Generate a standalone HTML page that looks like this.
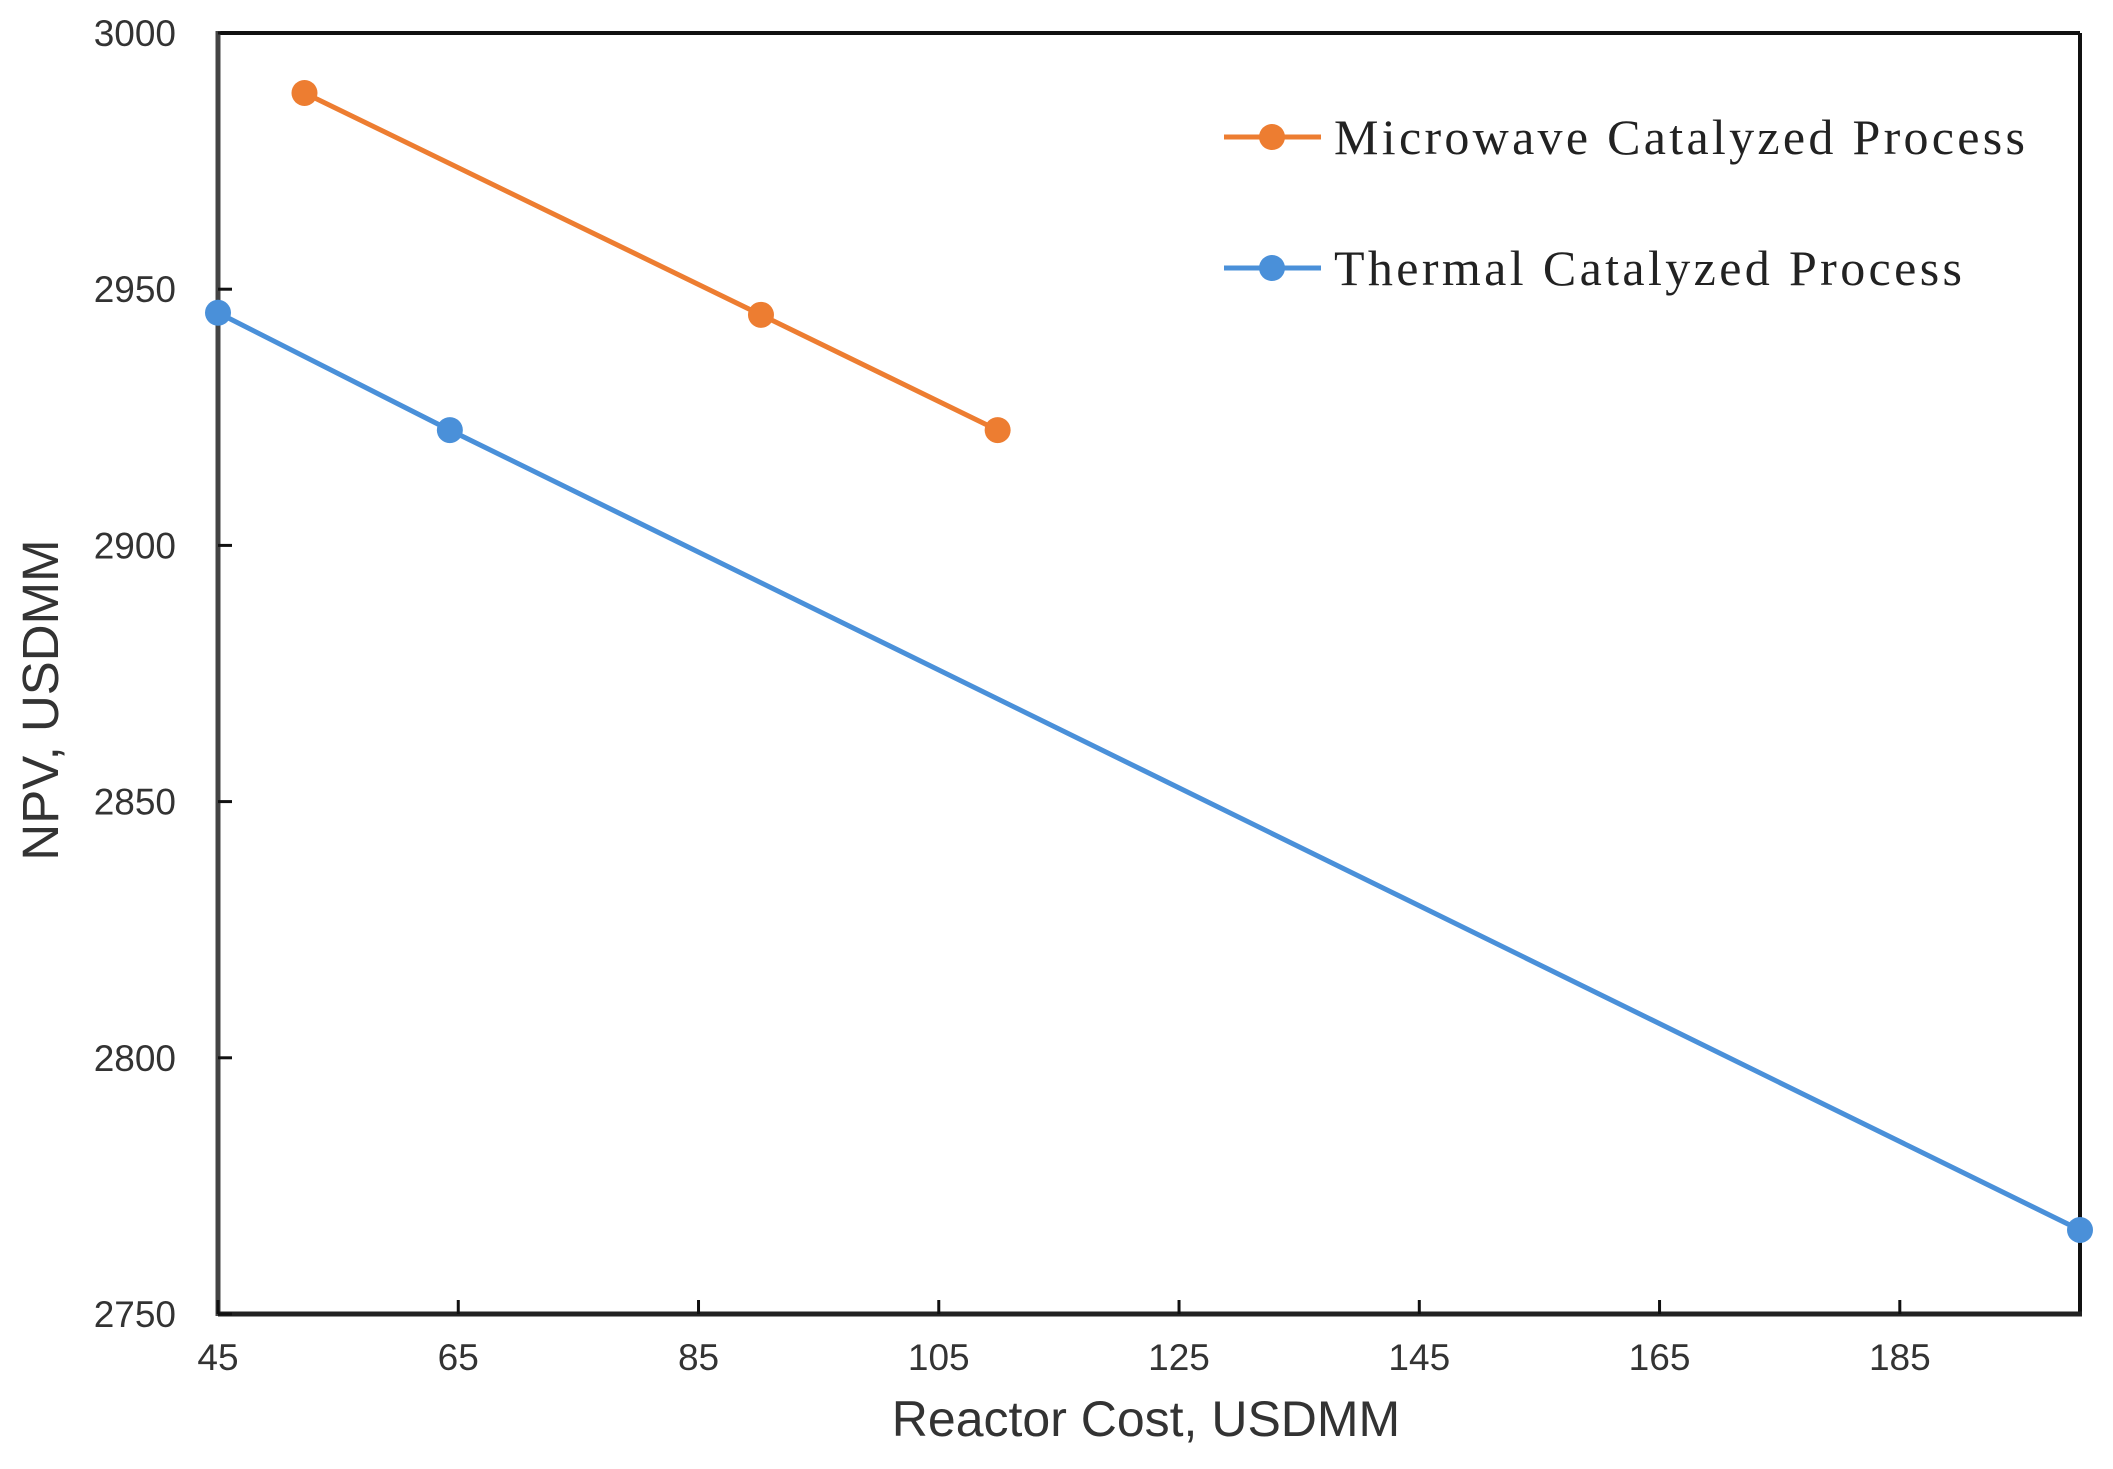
<!DOCTYPE html>
<html><head><meta charset="utf-8"><style>
html,body{margin:0;padding:0;background:#fff;}
svg{display:block;}
</style></head><body>
<svg id="chart" width="2113" height="1469" viewBox="0 0 2113 1469" xmlns="http://www.w3.org/2000/svg">
<g id="axes"></g><g id="series"></g>
<g>
 <g>
  <line x1="1224" y1="137" x2="1321" y2="137" stroke="#ED7D31" stroke-width="5"/>
  <circle cx="1272" cy="137" r="13" fill="#ED7D31"/>
  <text x="1334" y="154" font-family="Liberation Serif, serif" font-size="50" textLength="691" lengthAdjust="spacing" fill="#222">Microwave Catalyzed Process</text>
 </g>
 <g>
  <line x1="1224" y1="268" x2="1321" y2="268" stroke="#4A90D9" stroke-width="5"/>
  <circle cx="1272" cy="268" r="13" fill="#4A90D9"/>
  <text x="1334" y="285" font-family="Liberation Serif, serif" font-size="50" textLength="628" lengthAdjust="spacing" fill="#222">Thermal Catalyzed Process</text>
 </g>
</g>
<text x="1146" y="1436" text-anchor="middle" font-family="Liberation Sans, sans-serif" font-size="50" fill="#333">Reactor Cost, USDMM</text>
<text transform="translate(58,700) rotate(-90)" text-anchor="middle" font-family="Liberation Sans, sans-serif" font-size="51" fill="#333">NPV, USDMM</text>
</svg>
<script>
const xTicks = [45, 65, 85, 105, 125, 145, 165, 185];
const yTicks = [2750, 2800, 2850, 2900, 2950, 3000];
const microwaveX = [52.2, 90.2, 109.9];
const microwaveY = [2988.3, 2945, 2922.5];
const thermalX = [45, 64.3, 200];
const thermalY = [2945.4, 2922.5, 2766.4];

const L = 218, R = 2080, T = 33, B = 1314;
const xMin = 45, xMax = 200, yMin = 2750, yMax = 3000;
function xs(v){ return L + (v - xMin) / (xMax - xMin) * (R - L); }
function ys(v){ return B - (v - yMin) / (yMax - yMin) * (B - T); }
const NS = 'http://www.w3.org/2000/svg';
function mk(tag, attrs, parent){ const e = document.createElementNS(NS, tag); for (const k in attrs) e.setAttribute(k, attrs[k]); parent.appendChild(e); return e; }
const axes = document.getElementById('axes');
const series = document.getElementById('series');

const frameTop = mk('line', {x1:L, y1:T, x2:R, y2:T, stroke:'#111', 'stroke-width':4}, axes);


const frameRight = mk('line', {x1:R, y1:T, x2:R, y2:B, stroke:'#111', 'stroke-width':4}, axes);


const yAxis = mk('line', {x1:L, y1:T-2, x2:L, y2:B+2, stroke:'#444', 'stroke-width':5}, axes);


const xAxis = mk('line', {x1:L, y1:B, x2:R+2, y2:B, stroke:'#222', 'stroke-width':5}, axes);



xTicks.forEach(function(v){
  const t = mk('line', {x1:xs(v), y1:B, x2:xs(v), y2:B-14, stroke:'#111', 'stroke-width':3}, axes);
  
  
  const l = mk('text', {x:xs(v), y:B+56, 'text-anchor':'middle', 'font-family':'Liberation Sans, sans-serif', 'font-size':37, fill:'#333'}, axes);
  l.textContent = v;
  
  
});
yTicks.forEach(function(v){
  const t = mk('line', {x1:L, y1:ys(v), x2:L+14, y2:ys(v), stroke:'#111', 'stroke-width':3}, axes);
  
  
  const l = mk('text', {x:176, y:ys(v)+13, 'text-anchor':'end', 'font-family':'Liberation Sans, sans-serif', 'font-size':37, fill:'#333'}, axes);
  l.textContent = v;
  
  
});

function drawSeries(xv, yv, color, name){
  const pts = xv.map(function(x,i){ return xs(x) + ',' + ys(yv[i]); }).join(' ');
  const pl = mk('polyline', {points:pts, fill:'none', stroke:color, 'stroke-width':5}, series);
  
  
  xv.forEach(function(x,i){
    const c = mk('circle', {cx:xs(x), cy:ys(yv[i]), r:13, fill:color}, series);
    
    
  });
}
drawSeries(microwaveX, microwaveY, '#ED7D31', 'microwave');
drawSeries(thermalX, thermalY, '#4A90D9', 'thermal');
</script>
</body></html>
